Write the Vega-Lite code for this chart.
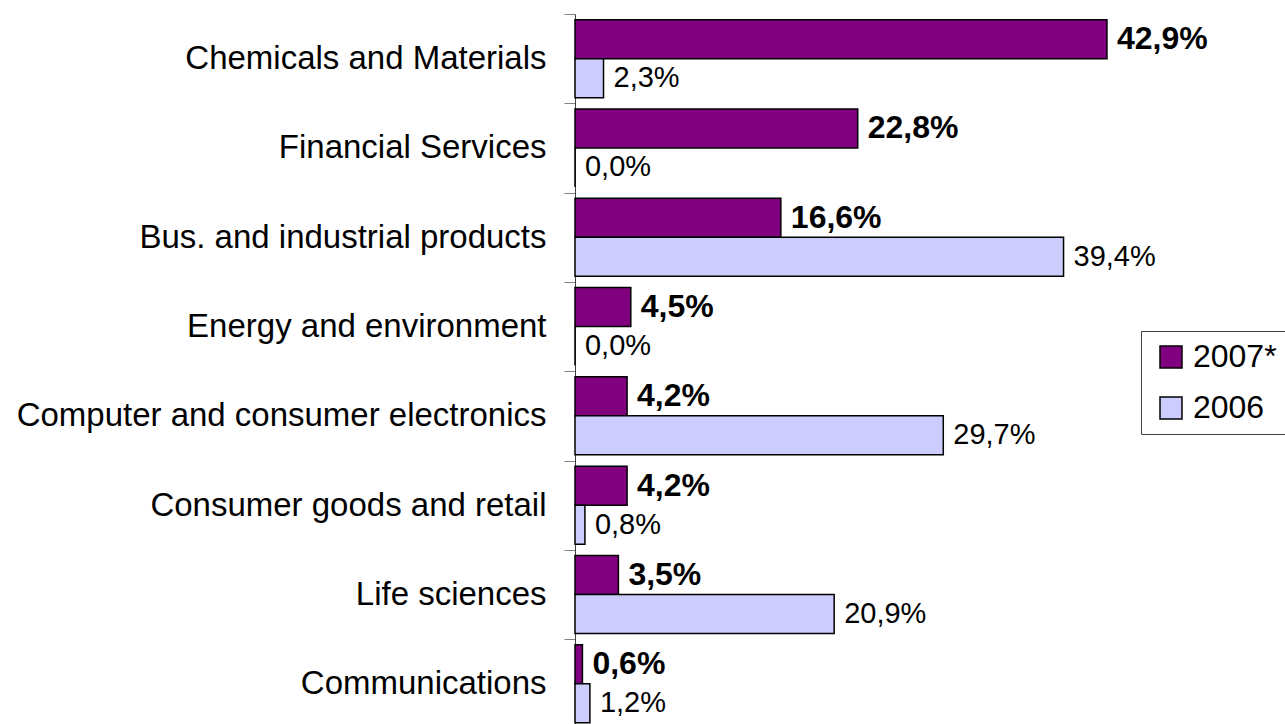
{
  "$schema": "https://vega.github.io/schema/vega-lite/v6.json",
  "autosize": {"type": "none"},
  "padding": {"left": 575, "top": 14, "right": 90, "bottom": 0},
  "width": 620,
  "height": 714.4,
  "config": {
    "view": {"stroke": null},
    "font": "Liberation Sans",
    "locale": {"number": {"decimal": ",", "thousands": ".", "grouping": [3], "currency": ["", " €"]}}
  },
  "data": {
    "values": [
      {"sector": "Chemicals and Materials", "year": "2007*", "share": 0.429},
      {"sector": "Chemicals and Materials", "year": "2006", "share": 0.023},
      {"sector": "Financial Services", "year": "2007*", "share": 0.228},
      {"sector": "Financial Services", "year": "2006", "share": 0.0},
      {"sector": "Bus. and industrial products", "year": "2007*", "share": 0.166},
      {"sector": "Bus. and industrial products", "year": "2006", "share": 0.394},
      {"sector": "Energy and environment", "year": "2007*", "share": 0.045},
      {"sector": "Energy and environment", "year": "2006", "share": 0.0},
      {"sector": "Computer and consumer electronics", "year": "2007*", "share": 0.042},
      {"sector": "Computer and consumer electronics", "year": "2006", "share": 0.297},
      {"sector": "Consumer goods and retail", "year": "2007*", "share": 0.042},
      {"sector": "Consumer goods and retail", "year": "2006", "share": 0.008},
      {"sector": "Life sciences", "year": "2007*", "share": 0.035},
      {"sector": "Life sciences", "year": "2006", "share": 0.209},
      {"sector": "Communications", "year": "2007*", "share": 0.006},
      {"sector": "Communications", "year": "2006", "share": 0.012}
    ]
  },
  "encoding": {
    "y": {
      "field": "sector",
      "type": "nominal",
      "sort": ["Chemicals and Materials", "Financial Services", "Bus. and industrial products", "Energy and environment", "Computer and consumer electronics", "Consumer goods and retail", "Life sciences", "Communications"],
      "scale": {"paddingInner": 0, "paddingOuter": 0},
      "axis": {
        "title": null,
        "labelFontSize": 33,
        "labelColor": "black",
        "tickBand": "extent",
        "tickSize": 11,
        "tickColor": "#808080",
        "domainColor": "#404040",
        "labelPadding": 18,
        "labelLimit": 0
      }
    },
    "yOffset": {
      "field": "year",
      "type": "nominal",
      "sort": ["2007*", "2006"],
      "scale": {"paddingInner": 0, "paddingOuter": 0.145}
    },
    "x": {
      "field": "share",
      "type": "quantitative",
      "scale": {"domain": [0, 0.5]},
      "axis": null
    }
  },
  "layer": [
    {
      "mark": {"type": "bar", "stroke": "black", "strokeWidth": 1.5},
      "encoding": {
        "color": {
          "field": "year",
          "type": "nominal",
          "scale": {"domain": ["2007*", "2006"], "range": ["#800080", "#CCCCFF"]},
          "legend": {
            "title": null,
            "orient": "none",
            "legendX": 566,
            "legendY": 317,
            "direction": "vertical",
            "labelFontSize": 32,
            "labelColor": "black",
            "symbolType": "square",
            "symbolSize": 484,
            "symbolStrokeColor": "black",
            "symbolStrokeWidth": 1.5,
            "symbolOpacity": 1,
            "strokeColor": "#404040",
            "fillColor": "white",
            "padding": 10,
            "rowPadding": 19,
            "symbolOffset": 4,
            "labelOffset": 6
          }
        }
      }
    },
    {
      "transform": [{"filter": "datum.year === '2007*'"}],
      "mark": {"type": "text", "align": "left", "baseline": "middle", "dx": 10, "fontSize": 32, "fontWeight": "bold", "color": "black"},
      "encoding": {"text": {"field": "share", "type": "quantitative", "format": ".1%"}}
    },
    {
      "transform": [{"filter": "datum.year === '2006'"}],
      "mark": {"type": "text", "align": "left", "baseline": "middle", "dx": 10, "fontSize": 29, "color": "black"},
      "encoding": {"text": {"field": "share", "type": "quantitative", "format": ".1%"}}
    }
  ]
}
